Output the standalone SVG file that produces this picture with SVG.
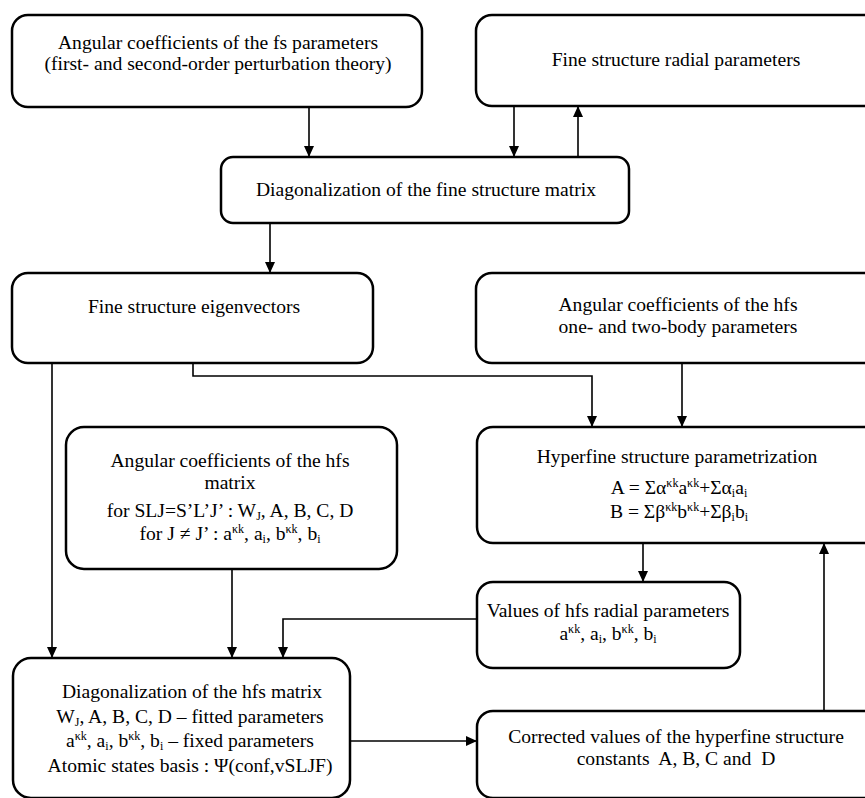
<svg xmlns="http://www.w3.org/2000/svg" width="865" height="798" viewBox="0 0 865 798">
<style>
.box{fill:#fff;stroke:#000;stroke-width:2.5}
.t{font-family:"Liberation Serif","Times New Roman",serif;font-size:19.6px;fill:#000;text-anchor:middle;white-space:pre}
.s{font-size:12px}
.c{fill:none;stroke:#000;stroke-width:1.6}
</style>
<defs>
<marker id="ah" markerUnits="userSpaceOnUse" markerWidth="11" markerHeight="11" viewBox="0 0 11 10" refX="11" refY="5" orient="auto">
<path d="M0,0 L11,5 L0,10 z" fill="#000"/>
</marker>
</defs>
<rect width="865" height="798" fill="#fff"/>
<g id="connectors">
<path class="c" d="M309,107 V157" marker-end="url(#ah)"/>
<path class="c" d="M514,106 V157" marker-end="url(#ah)"/>
<path class="c" d="M578,157 V106" marker-end="url(#ah)"/>
<path class="c" d="M270,223 V273" marker-end="url(#ah)"/>
<path class="c" d="M52,363 V658" marker-end="url(#ah)"/>
<path class="c" d="M193,363 V376 H592 V427" marker-end="url(#ah)"/>
<path class="c" d="M682,363 V427" marker-end="url(#ah)"/>
<path class="c" d="M232,569 V658" marker-end="url(#ah)"/>
<path class="c" d="M643,543 V582" marker-end="url(#ah)"/>
<path class="c" d="M477,619 H283 V658" marker-end="url(#ah)"/>
<path class="c" d="M350,741 H477" marker-end="url(#ah)"/>
<path class="c" d="M824,711 V543" marker-end="url(#ah)"/>
</g>
<g id="fs-angular">
<rect class="box" x="12" y="15" width="410" height="92" rx="16"/>
<text class="t" x="218" y="49">Angular coefficients of the fs parameters</text>
<text class="t" x="218" y="70">(first- and second-order perturbation theory)</text>
</g>
<g id="fs-radial">
<rect class="box" x="476" y="15" width="410" height="91" rx="16"/>
<text class="t" x="676" y="66">Fine structure radial parameters</text>
</g>
<g id="fs-diag">
<rect class="box" x="221" y="157" width="408" height="66" rx="12"/>
<text class="t" x="426" y="196">Diagonalization of the fine structure matrix</text>
</g>
<g id="fs-eigen">
<rect class="box" x="12" y="273" width="361" height="90" rx="16"/>
<text class="t" x="194" y="313">Fine structure eigenvectors</text>
</g>
<g id="hfs-angular-params">
<rect class="box" x="476" y="273" width="410" height="90" rx="16"/>
<text class="t" x="678" y="311">Angular coefficients of the hfs</text>
<text class="t" x="678" y="333">one- and two-body parameters</text>
</g>
<g id="hfs-angular-matrix">
<rect class="box" x="66" y="427" width="331" height="142" rx="18"/>
<text class="t" x="230" y="467">Angular coefficients of the hfs</text>
<text class="t" x="230" y="489">matrix</text>
<text class="t" x="230" y="517">for SLJ=S’L’J’ : W<tspan class="s" dy="3">J</tspan><tspan dy="-3">, A, B, C, D</tspan></text>
<text class="t" x="230" y="540">for J ≠ J’ : a<tspan class="s" dy="-7">κk</tspan><tspan dy="7">, a</tspan><tspan class="s" dy="3">i</tspan><tspan dy="-3">, b</tspan><tspan class="s" dy="-7">κk</tspan><tspan dy="7">, b</tspan><tspan class="s" dy="3">i</tspan></text>
</g>
<g id="hfs-param">
<rect class="box" x="477" y="427" width="410" height="116" rx="16"/>
<text class="t" x="677" y="463">Hyperfine structure parametrization</text>
<text class="t" x="679" y="494">A = Σα<tspan class="s" dy="-7">κk</tspan><tspan dy="7">a</tspan><tspan class="s" dy="-7">κk</tspan><tspan dy="7">+Σα</tspan><tspan class="s" dy="3">i</tspan><tspan dy="-3">a</tspan><tspan class="s" dy="3">i</tspan></text>
<text class="t" x="679" y="518">B = Σβ<tspan class="s" dy="-7">κk</tspan><tspan dy="7">b</tspan><tspan class="s" dy="-7">κk</tspan><tspan dy="7">+Σβ</tspan><tspan class="s" dy="3">i</tspan><tspan dy="-3">b</tspan><tspan class="s" dy="3">i</tspan></text>
</g>
<g id="hfs-radial">
<rect class="box" x="477" y="582" width="263" height="86" rx="16"/>
<text class="t" x="608" y="617">Values of hfs radial parameters</text>
<text class="t" x="608" y="640">a<tspan class="s" dy="-7">κk</tspan><tspan dy="7">, a</tspan><tspan class="s" dy="3">i</tspan><tspan dy="-3">, b</tspan><tspan class="s" dy="-7">κk</tspan><tspan dy="7">, b</tspan><tspan class="s" dy="3">i</tspan></text>
</g>
<g id="hfs-diag">
<rect class="box" x="13" y="658" width="337" height="140" rx="18"/>
<text class="t" x="192" y="698">Diagonalization of the hfs matrix</text>
<text class="t" x="190" y="723">W<tspan class="s" dy="3">J</tspan><tspan dy="-3">, A, B, C, D – fitted parameters</tspan></text>
<text class="t" x="190" y="747">a<tspan class="s" dy="-7">κk</tspan><tspan dy="7">, a</tspan><tspan class="s" dy="3">i</tspan><tspan dy="-3">, b</tspan><tspan class="s" dy="-7">κk</tspan><tspan dy="7">, b</tspan><tspan class="s" dy="3">i</tspan><tspan dy="-3"> – fixed parameters</tspan></text>
<text class="t" x="190" y="772">Atomic states basis : Ψ(conf,vSLJF)</text>
</g>
<g id="hfs-corrected">
<rect class="box" x="477" y="711" width="410" height="87" rx="16"/>
<text class="t" x="676" y="743">Corrected values of the hyperfine structure</text>
<text class="t" x="676" y="765">constants  A, B, C and  D</text>
</g>
</svg>
